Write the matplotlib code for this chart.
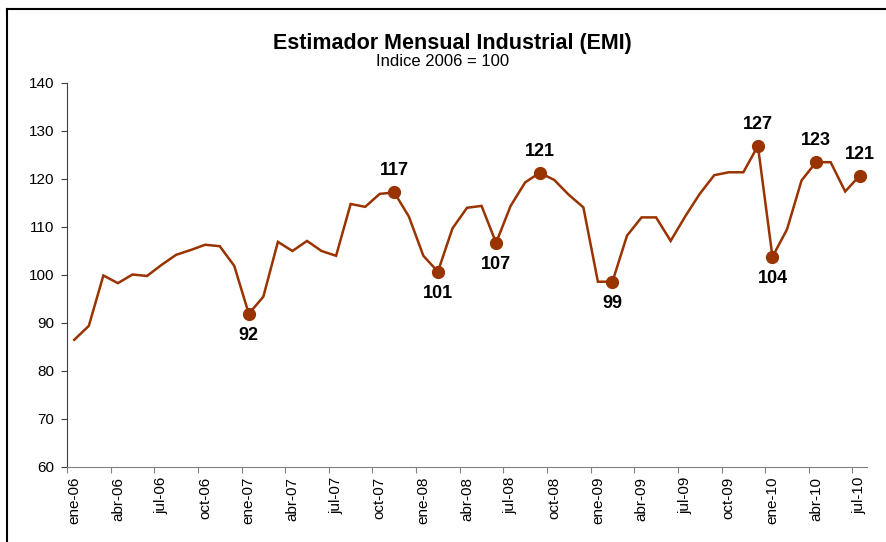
import matplotlib
matplotlib.use("Agg")
import matplotlib.pyplot as plt
from matplotlib.lines import Line2D

# ---------------------------
# Data
# ---------------------------
MONTHS = ["ene", "feb", "mar", "abr", "may", "jun",
          "jul", "ago", "sep", "oct", "nov", "dic"]

# ene-06 .. jul-10
months = [f"{m}-{y:02d}" for y in range(6, 11) for m in MONTHS][:55]

emi = [
    86.5, 89.4, 99.9, 98.3, 100.1, 99.8, 102.1, 104.2, 105.2, 106.3, 106.0, 101.9,   # 2006
    91.9, 95.5, 106.9, 105.0, 107.1, 105.0, 104.0, 114.8, 114.2, 116.9, 117.2, 112.2,  # 2007
    104.0, 100.7, 109.7, 114.0, 114.4, 106.7, 114.4, 119.3, 121.3, 119.8, 116.7, 114.1,  # 2008
    98.6, 98.6, 108.2, 112.0, 112.0, 107.1, 112.2, 116.9, 120.8, 121.4, 121.4, 126.9,  # 2009
    103.8, 109.5, 119.7, 123.5, 123.5, 117.4, 120.7,  # 2010
]

# highlighted points: (month label, text, position)
highlights = [
    ("ene-07", "92", "below"),
    ("nov-07", "117", "above"),
    ("feb-08", "101", "below"),
    ("jun-08", "107", "below"),
    ("sep-08", "121", "above"),
    ("feb-09", "99", "below"),
    ("dic-09", "127", "above"),
    ("ene-10", "104", "below"),
    ("abr-10", "123", "above"),
    ("jul-10", "121", "above"),
]

LINE_COLOR = "#993300"

# ---------------------------
# Plot
# ---------------------------
plt.rcParams["font.family"] = ["Liberation Sans", "DejaVu Sans"]

fig = plt.figure(figsize=(8.87, 5.42), dpi=100)
ax = fig.add_axes([67 / 887, 75 / 542, 800 / 887, 384 / 542])

x = list(range(len(emi)))
ax.plot(x, emi, color=LINE_COLOR, lw=1.8, solid_joinstyle="miter")

for label, text, pos in highlights:
    i = months.index(label)
    ax.plot(i, emi[i], "o", color=LINE_COLOR, ms=8.5)
    dy = 15.5 if pos == "above" else -15.5
    ax.annotate(text, (i, emi[i]), xytext=(0, dy), textcoords="offset points",
                ha="center", va="center", fontsize=13, fontweight="bold")

ax.set_xlim(-0.5, len(emi) - 0.5)
ax.set_ylim(60, 140)
ax.set_yticks(range(60, 141, 10))

# ticks on the category boundaries, labels on the months
tick_idx = list(range(0, len(emi), 3))
ax.set_xticks([i - 0.5 for i in tick_idx])
ax.set_xticklabels([])
ax.set_xticks(tick_idx, minor=True)
ax.set_xticklabels([months[i] for i in tick_idx], minor=True, rotation=90, fontsize=11)
ax.tick_params(axis="x", which="minor", length=0, pad=7)
ax.tick_params(axis="x", which="major", length=4, color="#808080", direction="out")
ax.tick_params(axis="y", length=4, color="#404040", labelsize=11, pad=5)

for side in ["top", "right"]:
    ax.spines[side].set_visible(False)
ax.spines["bottom"].set_color("#808080")
ax.spines["left"].set_color("#404040")

# titles
fig.text(452 / 887, 1 - 43 / 542, "Estimador Mensual Industrial (EMI)",
         ha="center", va="center", fontsize=15.5, fontweight="bold")
fig.text(443 / 887, 1 - 62 / 542, "Indice 2006 = 100",
         ha="center", va="center", fontsize=12)

# chart frame (cut at right and bottom)
fig.add_artist(Line2D([7 / 887, 7 / 887], [0, 1 - 9 / 542], transform=fig.transFigure,
                      color="black", lw=1.5))
fig.add_artist(Line2D([7 / 887, 1], [1 - 9 / 542, 1 - 9 / 542], transform=fig.transFigure,
                      color="black", lw=1.5))

fig.savefig("out.png", dpi=100)
